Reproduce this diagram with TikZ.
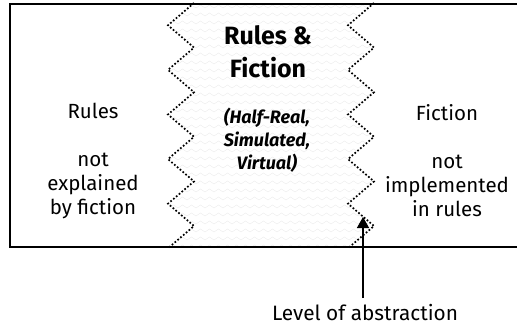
\documentclass[tikz,border=0pt]{standalone}
\usepackage{fontspec}
\setmainfont{Fira Sans}
\usetikzlibrary{arrows.meta}

\tikzset{
  zig/.style={line width=1.7pt, dash pattern=on 1.7pt off 2pt},
  band/.style={black!7, line width=0.5pt},
  txt/.style={align=center, font=\fontsize{20.5}{24}\selectfont},
}

\begin{document}
\begin{tikzpicture}[x=1pt,y=-1pt]
  \useasboundingbox (0,0) rectangle (517,326);
  % faint zigzag pattern in the middle band
  \begin{scope}
    \clip (194,3) \foreach \k in {1,...,11}{ -- ({mod(\k,2)==1 ? 168 : 194},{3+\k*22.3}) }
          \foreach \k in {11,...,0}{ -- ({mod(\k,2)==1 ? 348 : 374},{3+\k*22.3}) } -- cycle;
    \foreach \r in {0,...,31}{%
      \draw[band] (160,\r*8) \foreach \i in {1,...,50}{ -- ({160+\i*4.5},{\r*8-mod(\i,2)*3}) };
    }
  \end{scope}
  % the two jagged borders
  \foreach \dx in {0,180}{%
    \draw[zig] (194+\dx,3) \foreach \k in {1,...,11}{ -- ({mod(\k,2)==1 ? 168+\dx : 194+\dx},{3+\k*22.3}) };
  }
  % frame, open to the right
  \draw[line width=2pt] (530,4) -- (10,4) -- (10,247) -- (530,247);

  \node[txt] (rules) at (93,161) {Rules\\[24pt]not\\explained\\by fiction};
  \node[txt] (fiction) at (447,161) {Fiction\\[24pt]not\\implemented\\in rules};
  \node[align=center, font=\fontsize{25}{33}\selectfont\bfseries] (title) at (268,52) {Rules \&\\Fiction};
  \node[align=center, font=\fontsize{18}{23}\selectfont\bfseries\itshape] (kinds) at (267,140) {(Half-Real,\\Simulated,\\Virtual)};
  \node[font=\fontsize{20.8}{24}\selectfont] (level) at (365,313) {Level of abstraction};
  \coordinate (tip) at (363,217);
  \draw[line width=1.5pt, -{Triangle[length=11pt,width=12pt]}, shorten <=3pt] (level.north -| tip) -- (tip);
\end{tikzpicture}
\end{document}
